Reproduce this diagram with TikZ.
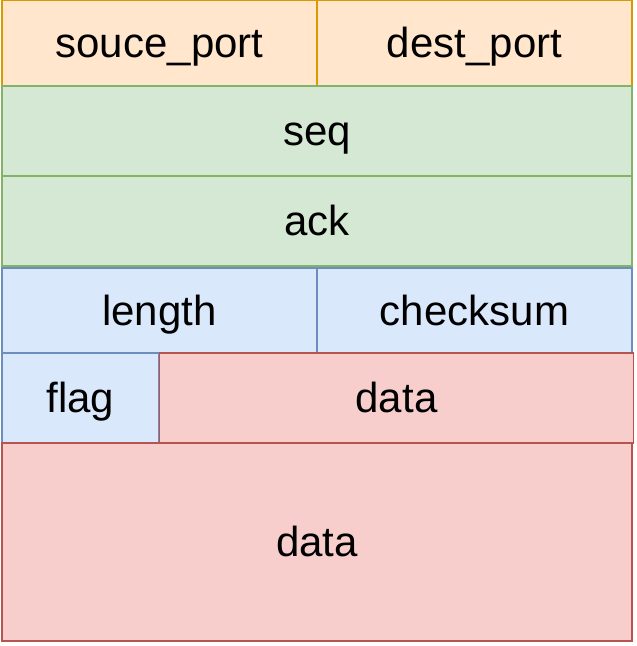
\documentclass[tikz,border=0pt]{standalone}
\usepackage{fontspec}
\setmainfont{Liberation Sans}
\definecolor{ofill}{HTML}{FFE6CC}\definecolor{oline}{HTML}{D79B00}
\definecolor{gfill}{HTML}{D5E8D4}\definecolor{gline}{HTML}{82B366}
\definecolor{bfill}{HTML}{DAE8FC}\definecolor{bline}{HTML}{6C8EBF}
\definecolor{rfill}{HTML}{F8CECC}\definecolor{rline}{HTML}{B85450}
\begin{document}
\begin{tikzpicture}[x=1pt,y=-1pt,
  field/.style={draw,line width=1.6pt,inner sep=0pt,outer sep=0pt,
    font=\fontsize{42}{48}\selectfont,text height=38pt,text depth=9pt,anchor=center},
  orange/.style={field,fill=ofill,draw=oline},
  green/.style={field,fill=gfill,draw=gline},
  blue/.style={field,fill=bfill,draw=bline},
  red/.style={field,fill=rfill,draw=rline}]
\useasboundingbox (0,0) rectangle (637,646);
\fill[white] (0,0) rectangle (637,646);
\node[orange,minimum width=315pt,minimum height=85pt] (sport) at (159.5,43) {souce\_port};
\node[orange,minimum width=315pt,minimum height=85pt] (dport) at (474.5,43) {dest\_port};
\node[green,minimum width=630pt,minimum height=90pt] (seq) at (317,131) {seq};
\node[green,minimum width=630pt,minimum height=90pt] (ack) at (317,221) {ack};
\node[blue,minimum width=315pt,minimum height=85pt] (len) at (159.5,310.5) {length};
\node[blue,minimum width=315pt,minimum height=85pt] (csum) at (474.5,310.5) {checksum};
\node[blue,minimum width=157pt,minimum height=90pt] (flag) at (80.5,398) {flag};
\node[red,minimum width=474pt,minimum height=90pt] (data1) at (396.5,398) {data};
\node[red,minimum width=630pt,minimum height=198pt] (data2) at (317,542) {data};
\end{tikzpicture}
\end{document}
